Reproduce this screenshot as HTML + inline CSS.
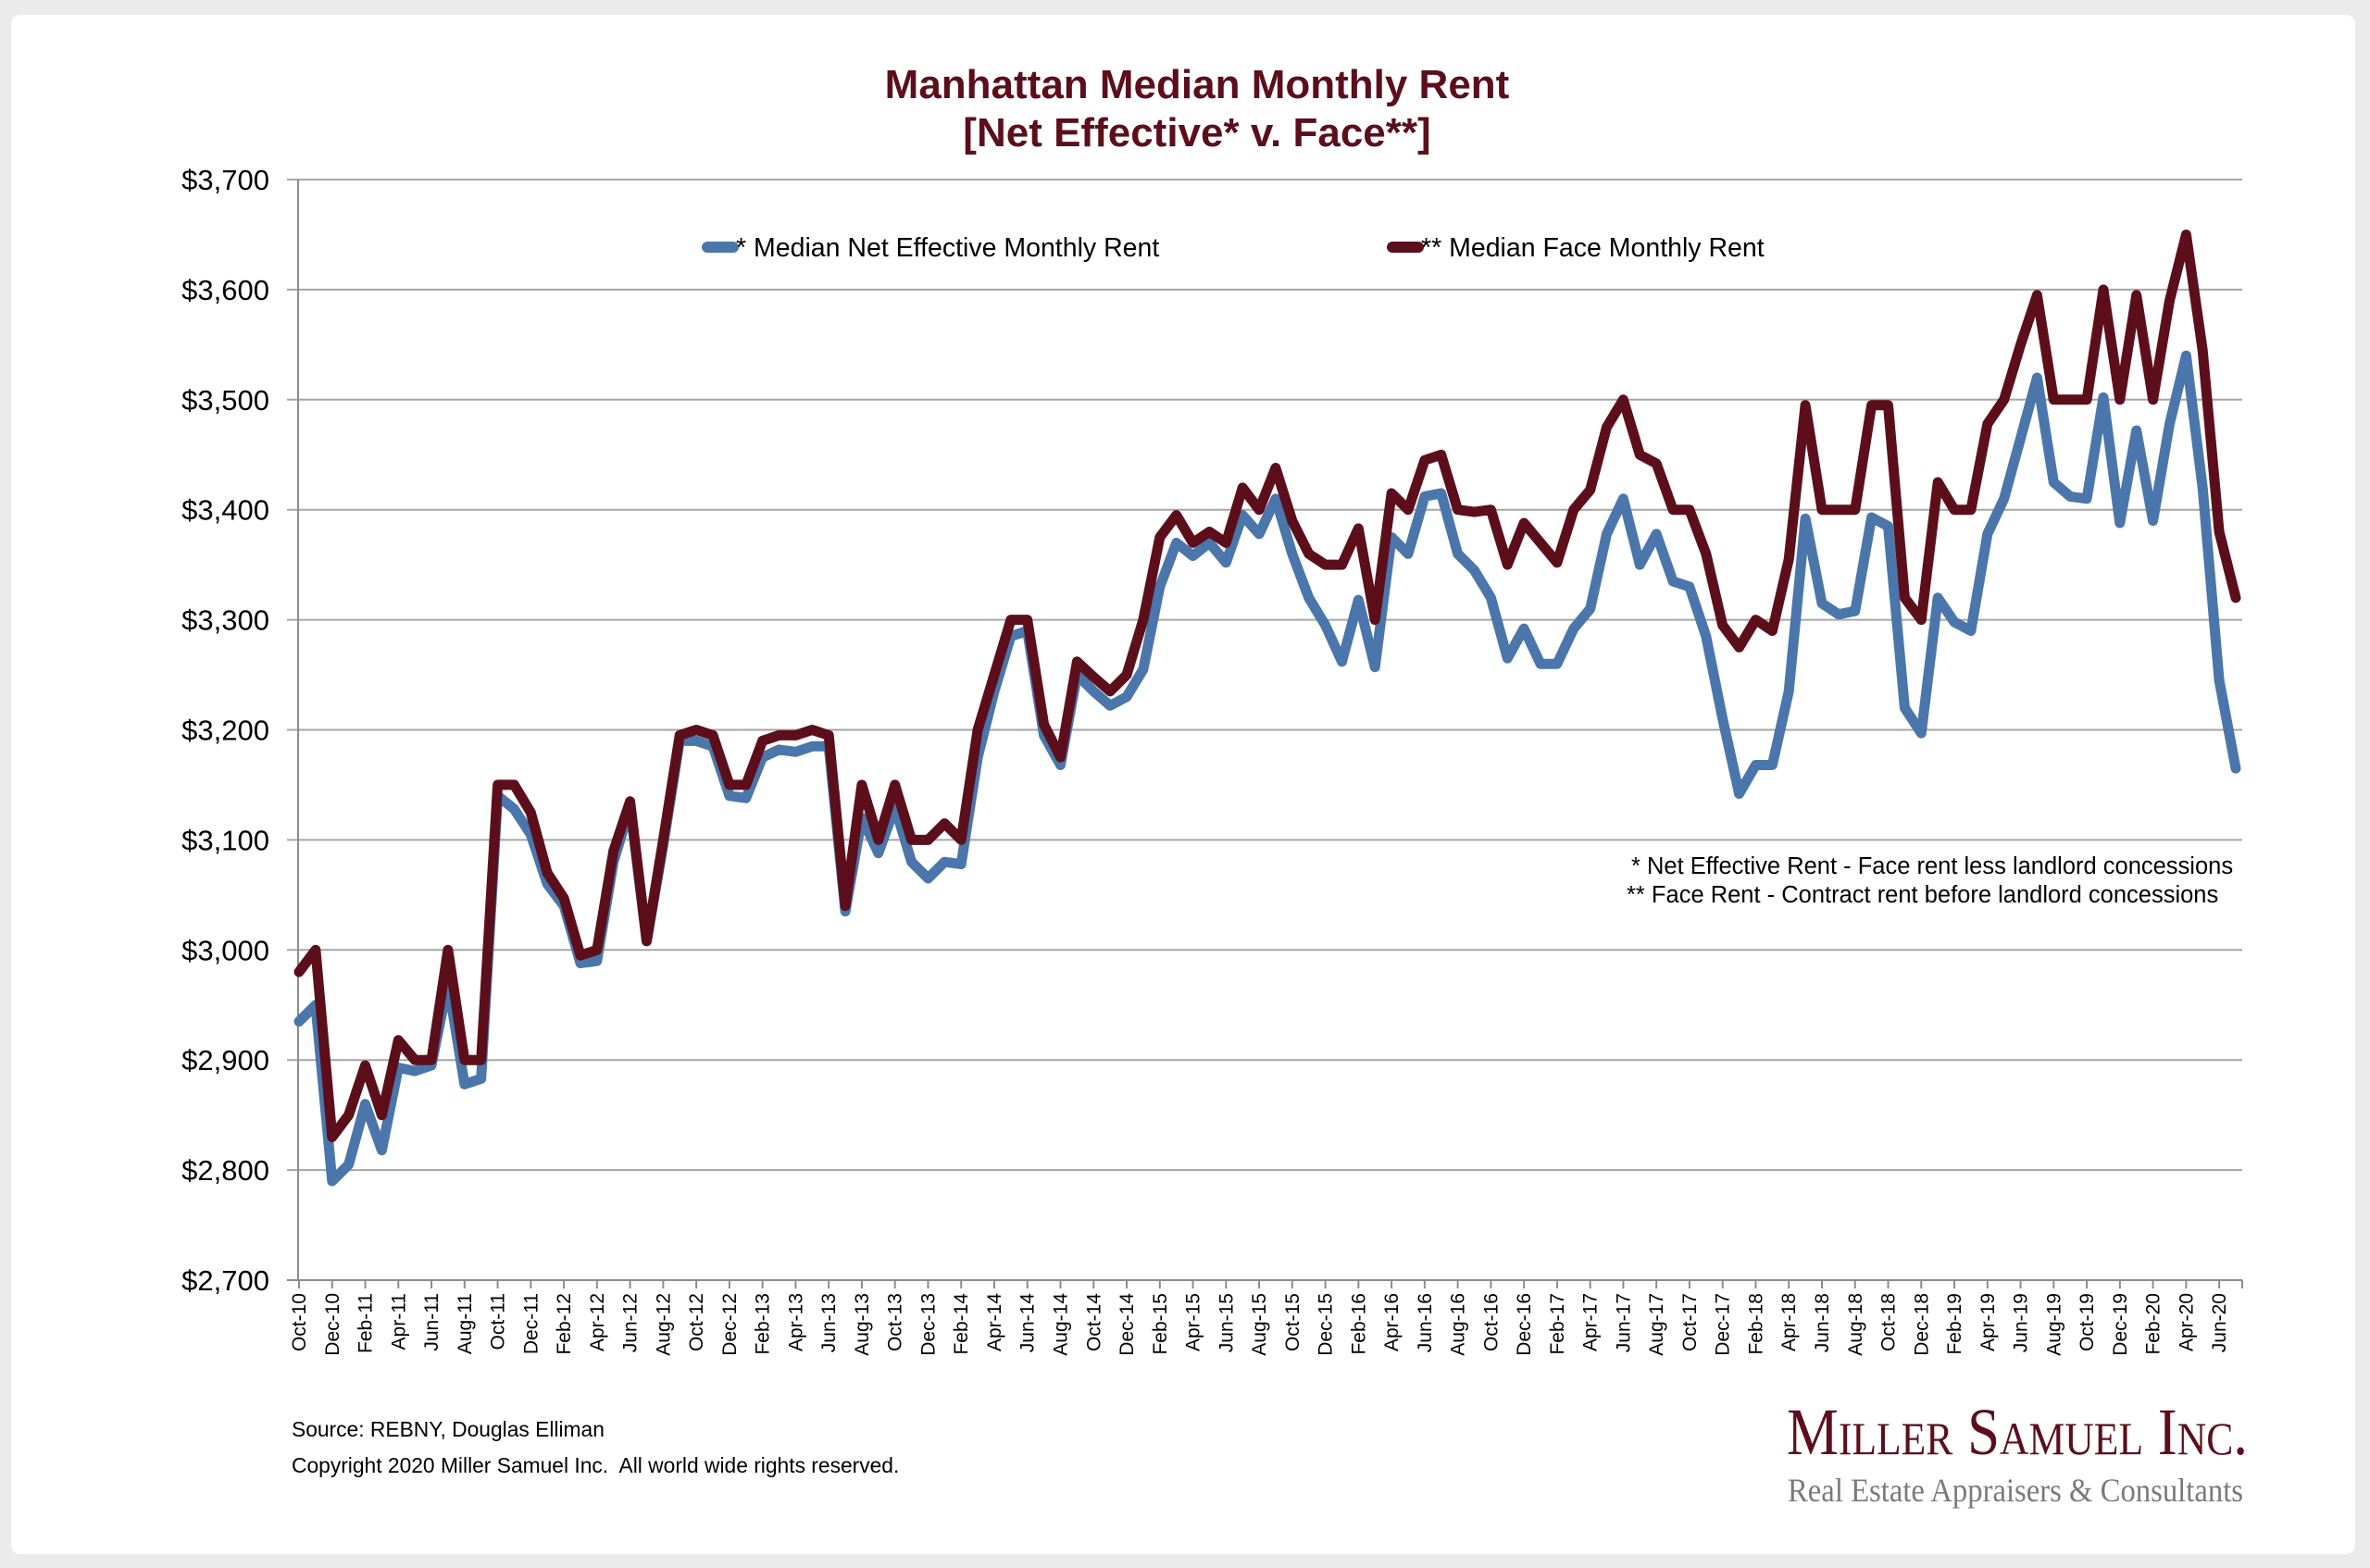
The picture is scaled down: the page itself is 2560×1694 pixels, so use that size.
<!DOCTYPE html>
<html><head><meta charset="utf-8"><style>
html,body{margin:0;padding:0;background:#ebebeb;}
body{width:2560px;height:1694px;overflow:hidden;position:relative;font-family:"Liberation Sans",Arial,sans-serif;}
#card{position:absolute;left:12px;top:16px;width:2532px;height:1663px;background:#fff;border-radius:10px;}
svg{position:absolute;left:0;top:0;}
</style></head><body>
<div id="card"></div>
<svg id="chart" width="2560" height="1694">
<text x="1293" y="106" text-anchor="middle" font-size="44" font-weight="bold" fill="#5c0f1b">Manhattan Median Monthly Rent</text>
<text x="1293" y="158" text-anchor="middle" font-size="44" font-weight="bold" fill="#5c0f1b">[Net Effective* v. Face**]</text>
<g id="grid"></g>
<g id="yaxis"></g>
<g id="xaxis"></g>
<g id="series"></g>
<g>
<line x1="764" y1="267" x2="792" y2="267" stroke="#4a76ab" stroke-width="12" stroke-linecap="round"/>
<text x="795" y="277" font-size="28.5" fill="#000">* Median Net Effective Monthly Rent</text>
<line x1="1504" y1="267" x2="1532" y2="267" stroke="#5c0f1b" stroke-width="12" stroke-linecap="round"/>
<text x="1535" y="277" font-size="28.5" fill="#000">** Median Face Monthly Rent</text>
</g>
<text x="1762" y="944" font-size="25.5" fill="#000">* Net Effective Rent - Face rent less landlord concessions</text>
<text x="1757" y="975" font-size="25.5" fill="#000">** Face Rent - Contract rent before landlord concessions</text>
<text x="315" y="1552" font-size="22.8" fill="#000">Source: REBNY, Douglas Elliman</text>
<text x="315" y="1591" font-size="22.8" fill="#000" xml:space="preserve">Copyright 2020 Miller Samuel Inc.  All world wide rights reserved.</text>
<text x="1930" y="1571" font-family="Liberation Serif,serif" font-size="72" fill="#5c0f1b" style="font-variant:small-caps" textLength="498" lengthAdjust="spacingAndGlyphs">Miller Samuel Inc.</text>
<text x="1931" y="1622" font-family="Liberation Serif,serif" font-size="36" fill="#7a7a7a" textLength="492" lengthAdjust="spacingAndGlyphs">Real Estate Appraisers &amp; Consultants</text>
</svg>
<script>
const months=["Jan","Feb","Mar","Apr","May","Jun","Jul","Aug","Sep","Oct","Nov","Dec"];
const yTicks=[2700,2800,2900,3000,3100,3200,3300,3400,3500,3600,3700];
const netRent=[2935,2950,2790,2805,2860,2818,2893,2890,2895,2970,2878,2883,3140,3128,3105,3060,3040,2988,2990,3080,3130,3008,3095,3190,3190,3185,3140,3138,3175,3182,3180,3185,3185,3035,3120,3088,3130,3080,3065,3080,3078,3175,3235,3285,3290,3195,3168,3250,3235,3222,3230,3255,3330,3370,3358,3370,3352,3395,3378,3410,3360,3320,3295,3262,3318,3257,3375,3360,3412,3415,3360,3345,3320,3265,3292,3260,3260,3292,3310,3378,3410,3350,3378,3335,3330,3285,3210,3142,3168,3168,3235,3392,3315,3305,3308,3393,3385,3220,3197,3320,3298,3290,3378,3410,3465,3520,3425,3412,3410,3502,3388,3472,3390,3478,3540,3420,3245,3165];
const faceRent=[2980,3000,2830,2850,2895,2850,2918,2900,2900,3000,2900,2900,3150,3150,3125,3070,3047,2995,3000,3090,3135,3008,3100,3195,3200,3195,3150,3150,3190,3195,3195,3200,3195,3040,3150,3100,3150,3100,3100,3115,3100,3200,3250,3300,3300,3205,3175,3262,3248,3235,3250,3300,3375,3395,3370,3380,3370,3420,3400,3438,3390,3360,3350,3350,3383,3300,3415,3400,3445,3450,3400,3398,3400,3350,3388,3370,3352,3400,3418,3475,3500,3450,3442,3400,3400,3360,3295,3275,3300,3290,3355,3495,3400,3400,3400,3495,3495,3320,3300,3425,3400,3400,3478,3500,3550,3595,3500,3500,3500,3600,3500,3595,3500,3590,3650,3545,3380,3320];
const categories=netRent.map((_,i)=>{const m=(9+i)%12;const y=10+Math.floor((9+i)/12);return months[m]+"-"+y;});
const NS="http://www.w3.org/2000/svg";
const L=322,R=2422,T=194,B=1383,X0=323,X1=2415,YMIN=2700,YMAX=3700;
const xs=i=>X0+(X1-X0)*i/(categories.length-1);
const ys=v=>B-(v-YMIN)/(YMAX-YMIN)*(B-T);
function mk(tag,attrs,parent){const e=document.createElementNS(NS,tag);for(const k in attrs)e.setAttribute(k,attrs[k]);parent.appendChild(e);return e;}
const grid=document.getElementById('grid'),yax=document.getElementById('yaxis'),xax=document.getElementById('xaxis'),ser=document.getElementById('series');
yTicks.forEach(v=>{
  if(v>YMIN){const g=mk('line',{x1:L-12,x2:R,y1:ys(v),y2:ys(v),stroke:'#a6a6a6','stroke-width':2},grid);
  
  }
  const t=mk('text',{x:291,y:ys(v)+11,'text-anchor':'end','font-size':31,fill:'#000'},yax);
  t.textContent='$'+v.toLocaleString('en-US');
  
  
});
const ax=mk('line',{x1:L,x2:L,y1:T,y2:B,stroke:'#8c8c8c','stroke-width':2},yax);


const bx=mk('line',{x1:L-12,x2:R,y1:B,y2:B,stroke:'#8c8c8c','stroke-width':2},xax);


categories.forEach((c,i)=>{
  if(i%2!==0)return;
  const x=xs(i);
  const tk=mk('line',{x1:x,x2:x,y1:B,y2:B+9,stroke:'#8c8c8c','stroke-width':2},xax);
  
  
  const t=mk('text',{x:0,y:0,'text-anchor':'end','font-size':21,fill:'#000',transform:`translate(${x+7},${B+14}) rotate(-90)`},xax);
  t.textContent=c;
  
  
});
const endTick=mk('line',{x1:R,x2:R,y1:B,y2:B+9,stroke:'#8c8c8c','stroke-width':2},xax);


function drawLine(vals,color,name){
  const d=vals.map((v,i)=>(i?'L':'M')+xs(i).toFixed(1)+','+ys(v).toFixed(1)).join(' ');
  const p=mk('path',{d:d,fill:'none',stroke:color,'stroke-width':11,'stroke-linejoin':'round','stroke-linecap':'round'},ser);
  
  
}
drawLine(netRent,'#4a76ab','net-effective-rent-line');
drawLine(faceRent,'#5c0f1b','face-rent-line');
</script>
</body></html>
